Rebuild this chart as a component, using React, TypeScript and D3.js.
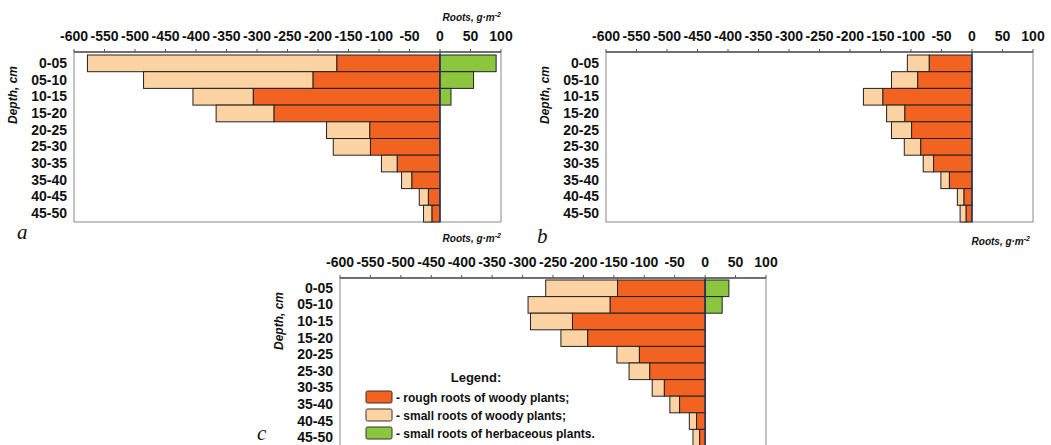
import React from "react";
import * as d3 from "d3";

const depths = ["0-05", "05-10", "10-15", "15-20", "20-25", "25-30", "30-35", "35-40", "40-45", "45-50"];
const tickValues = [-600, -550, -500, -450, -400, -350, -300, -250, -200, -150, -100, -50, 0, 50, 100];

// Panel a
const roughA = [-169, -208, -306, -272, -115, -114, -70, -46, -19, -13];
const smallA = [-409, -278, -99, -95, -71, -61, -26, -17, -15, -14];
const herbA = [92, 55, 18, 0, 0, 0, 0, 0, 0, 0];
// Panel b
const roughB = [-70, -89, -146, -110, -99, -84, -63, -37, -13, -9.5];
const smallB = [-36, -43, -32, -30, -33, -27, -17, -14, -11, -10];
const herbB = [0, 0, 0, 0, 0, 0, 0, 0, 0, 0];
// Panel c
const roughC = [-144, -156, -218, -193, -108, -91, -67, -42, -14, -9];
const smallC = [-118, -135, -69, -44, -37, -34, -20, -16, -12, -11];
const herbC = [39, 28, 0, 0, 0, 0, 0, 0, 0, 0];

const legendItems = [
  "- rough roots of woody plants;",
  "- small roots of woody plants;",
  "- small roots of herbaceous plants.",
];

const C_ROUGH = "#f26322";
const C_SMALL = "#fdd3a3";
const C_HERB = "#8cc63f";
const FONT = "'Liberation Sans', Arial, sans-serif";

type PanelProps = {
  x0: number; x1: number; y0: number; y1: number; barTop: number;
  rough: number[]; small: number[]; herb: number[];
  letter: string; letterX: number; letterY: number;
  topLabel?: boolean; bottomLabel?: { dx: number; y: number } | null;
};

function RootsLabel({ x, y }: { x: number; y: number }) {
  return (
    <text x={x} y={y} textAnchor="end" fontFamily={FONT} fontStyle="italic" fontWeight="bold" fontSize={10} fill="#111">
      Roots, g·m<tspan dy={-4} fontSize={7}>-2</tspan>
    </text>
  );
}

function Panel(p: PanelProps) {
  const x = d3.scaleLinear().domain([-600, 100]).range([p.x0, p.x1]);
  const y = d3.scaleBand<string>().domain(depths).range([p.barTop, p.y1]).padding(0);
  const bh = y.bandwidth();
  return (
    <g>
      <rect x={p.x0} y={p.y0} width={p.x1 - p.x0} height={p.y1 - p.y0} fill="white" stroke="#8a8a8a" strokeWidth={1} />
      {depths.map((d, i) => {
        const yy = y(d)!;
        const r = p.rough[i];
        const s = p.small[i];
        const h = p.herb[i];
        return (
          <g key={d}>
            <rect x={x(r + s)} y={yy} width={x(r) - x(r + s)} height={bh} fill={C_SMALL} stroke="#222" strokeWidth={1} />
            <rect x={x(r)} y={yy} width={x(0) - x(r)} height={bh} fill={C_ROUGH} stroke="#222" strokeWidth={1} />
            {h > 0 && (
              <rect x={x(0)} y={yy} width={x(h) - x(0)} height={bh} fill={C_HERB} stroke="#222" strokeWidth={1} />
            )}
            <text x={p.x0 - 7} y={yy + bh / 2 + 4.5} textAnchor="end" fontFamily={FONT} fontWeight="bold" fontSize={14} fill="#111">
              {d}
            </text>
          </g>
        );
      })}
      <line x1={x(0)} x2={x(0)} y1={p.y0} y2={p.y1} stroke="#1c2f6e" strokeWidth={1.3} />
      <line x1={p.x0} x2={p.x1} y1={p.y0} y2={p.y0} stroke="#555" strokeWidth={1.5} />
      {tickValues.map((t) => (
        <g key={t}>
          <line x1={x(t)} x2={x(t)} y1={p.y0} y2={p.y0 - 3} stroke="#555" strokeWidth={1} />
          <text x={x(t)} y={p.y0 - 11} textAnchor="middle" fontFamily={FONT} fontWeight="bold" fontSize={14} fill="#111">
            {String(t)}
          </text>
        </g>
      ))}
      <text
        transform={`translate(${p.x0 - 57},${(p.y0 + 43)}) rotate(-90)`}
        textAnchor="middle" fontFamily={FONT} fontStyle="italic" fontWeight="bold" fontSize={12} fill="#111"
      >
        Depth, cm
      </text>
      {p.topLabel && <RootsLabel x={p.x1} y={21} />}
      {p.bottomLabel && <RootsLabel x={p.x1 + p.bottomLabel.dx} y={p.bottomLabel.y} />}
      <text x={p.letterX} y={p.letterY} fontFamily="'Liberation Serif', 'DejaVu Serif', serif" fontStyle="italic" fontSize={21} fill="#111">
        {p.letter}
      </text>
    </g>
  );
}

function Legend({ x0, y0 }: { x0: number; y0: number }) {
  const colors = [C_ROUGH, C_SMALL, C_HERB];
  return (
    <g>
      <text x={x0 + 110} y={y0} textAnchor="middle" fontFamily={FONT} fontWeight="bold" fontSize={13} fill="#111">
        Legend:
      </text>
      {legendItems.map((t, i) => (
        <g key={t}>
          <rect x={x0} y={y0 + 9 + i * 18} width={26} height={12} rx={1.5} fill={colors[i]} stroke="#333" strokeWidth={1} />
          <text x={x0 + 30} y={y0 + 19.5 + i * 18} fontFamily={FONT} fontWeight="bold" fontSize={12} fill="#111">
            {t}
          </text>
        </g>
      ))}
    </g>
  );
}

export default function App() {
  return (
    <svg width={1051} height={445} style={{ position: "absolute", left: 0, top: 0, background: "white" }}>
      <rect x={0} y={0} width={1051} height={445} fill="white" />
      <Panel x0={74} x1={501} y0={52} y1={222} barTop={55} rough={roughA} small={smallA} herb={herbA}
        letter="a" letterX={17} letterY={239} topLabel bottomLabel={{ dx: 0, y: 242 }} />
      <Panel x0={606} x1={1033} y0={52} y1={222} barTop={55} rough={roughB} small={smallB} herb={herbB}
        letter="b" letterX={537} letterY={243} bottomLabel={{ dx: -3, y: 245 }} />
      <Panel x0={340} x1={766} y0={278} y1={446} barTop={280} rough={roughC} small={smallC} herb={herbC}
        letter="c" letterX={257} letterY={440} />
      <Legend x0={366} y0={382} />
    </svg>
  );
}
